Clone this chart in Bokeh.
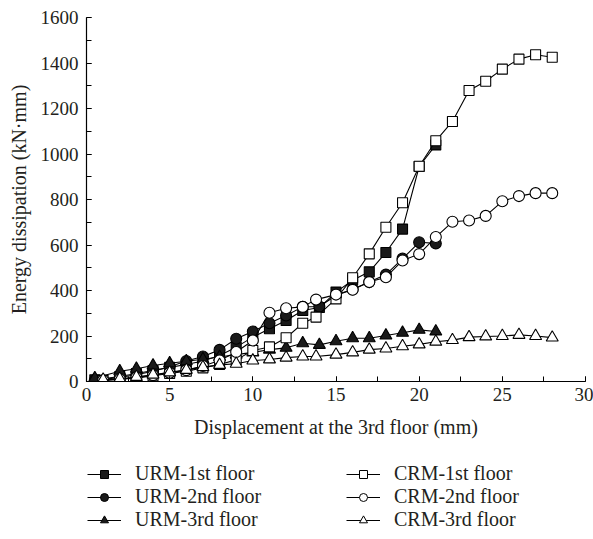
from bokeh.plotting import figure
from bokeh.models import Range1d, Legend, LegendItem, SingleIntervalTicker
from bokeh.layouts import column
from bokeh.embed import file_html
from bokeh.resources import INLINE

# ---- data ----
urm_x = [0.5, 2, 3, 4, 5, 6, 7, 8, 9, 10, 11, 12, 13, 14, 15, 16, 17, 18, 19, 20, 21]
urm_1st = [8, 22, 35, 48, 62, 75, 90, 114, 151, 195, 232, 268, 312, 325, 393, 445, 482, 567, 670, 945, 1040]
urm_2nd = [5, 18, 30, 45, 65, 90, 110, 139, 188, 220, 256, 290, 328, 330, 378, 405, 437, 470, 540, 612, 607]
urm_3rd = [15, 45, 56, 70, 80, 89, 98, 108, 118, 128, 140, 148, 168, 161, 177, 190, 190, 202, 214, 227, 220]

crm_x = [1, 2, 3, 4, 5, 6, 7, 8, 9, 10, 11, 12, 13, 13.8, 15, 16, 17, 18, 19, 20, 21, 22, 23, 24, 25, 26, 27, 28]
crm_1st = [5, 10, 15, 25, 35, 45, 60, 75, 95, 136, 152, 192, 256, 283, 363, 456, 561, 678, 786, 946, 1058, 1143, 1279, 1320, 1373, 1417, 1436, 1425]
crm_2nd = [5, 10, 18, 28, 38, 50, 68, 92, 130, 180, 302, 322, 328, 360, 382, 403, 437, 458, 532, 560, 635, 702, 708, 728, 792, 815, 828, 828]
crm_3rd = [8, 12, 20, 30, 40, 51, 63, 73, 78, 92, 97, 105, 110, 110, 118, 128, 140, 145, 155, 163, 175, 182, 195, 198, 200, 205, 200, 193]

labels = ["URM-1st floor", "URM-2nd floor", "URM-3rd floor",
          "CRM-1st floor", "CRM-2nd floor", "CRM-3rd floor"]

FONT = "Liberation Serif"
INK = "#231f20"

p = figure(width=593, height=440, output_backend="svg", toolbar_location=None,
           x_range=Range1d(0, 30), y_range=Range1d(0, 1600),
           min_border_left=86, min_border_right=8, min_border_top=17, min_border_bottom=59)
p.outline_line_color = None
p.xgrid.visible = False
p.ygrid.visible = False
p.background_fill_color = "white"
p.border_fill_color = "white"

p.xaxis.ticker = SingleIntervalTicker(interval=5, num_minor_ticks=2)
p.yaxis.ticker = SingleIntervalTicker(interval=200, num_minor_ticks=2)
for ax in (p.xaxis[0], p.yaxis[0]):
    ax.axis_line_color = "black"
    ax.axis_line_width = 1.2
    ax.major_tick_in = 5
    ax.major_tick_out = 0
    ax.minor_tick_in = 5
    ax.minor_tick_out = 0
    ax.major_tick_line_color = "black"
    ax.minor_tick_line_color = "black"
    ax.major_label_text_font = FONT
    ax.major_label_text_font_size = "19px"
    ax.major_label_text_color = INK
    ax.axis_label_text_font = FONT
    ax.axis_label_text_font_size = "20px"
    ax.axis_label_text_font_style = "normal"
    ax.axis_label_text_color = INK
p.xaxis.axis_label = "Displacement at the 3rd floor (mm)"
p.yaxis.axis_label = "Energy dissipation (kN\u00b7mm)"
p.xaxis.major_label_standoff = 6
p.yaxis.major_label_standoff = 8
p.xaxis.axis_label_standoff = 12
p.yaxis.axis_label_standoff = 8

# (x, y, marker, fill, size in chart, size in legend)
series = [
    (urm_x, urm_1st, "square", "#1a1a1a", 10, 8),
    (urm_x, urm_2nd, "circle", "#1a1a1a", 11, 8),
    (urm_x, urm_3rd, "triangle", "#1a1a1a", 12, 9),
    (crm_x, crm_1st, "square", "white", 10, 8),
    (crm_x, crm_2nd, "circle", "white", 11, 8),
    (crm_x, crm_3rd, "triangle", "white", 12, 9),
]

# legend strip (its own small figure, so the legend is not clipped by the chart frame)
q = figure(width=593, height=99, output_backend="svg", toolbar_location=None,
           x_range=Range1d(0, 1), y_range=Range1d(0, 1),
           min_border_left=0, min_border_right=0, min_border_top=0, min_border_bottom=0)
q.axis.visible = False
q.grid.visible = False
q.outline_line_color = None
q.background_fill_color = "white"
q.border_fill_color = "white"

items = []
for (xs, ys, marker, fill, size, lsize), lab in zip(series, labels):
    p.line(xs, ys, line_color="black", line_width=1.1)
    p.scatter(xs, ys, marker=marker, size=size, fill_color=fill,
              line_color="black", line_width=1.1)
    # hidden twins that only serve as legend samples
    ln = q.line(xs, ys, line_color="black", line_width=1.1, visible=False)
    sc = q.scatter(xs, ys, marker=marker, size=lsize, fill_color=fill,
                   line_color="black", line_width=1.0, visible=False)
    items.append(LegendItem(label=lab, renderers=[ln, sc]))

def make_legend(its, loc):
    return Legend(items=its, location=loc, orientation="vertical",
                  padding=0, margin=0, spacing=0, glyph_width=34, glyph_height=20,
                  label_height=20, label_standoff=14,
                  label_text_font=FONT, label_text_font_size="20px", label_text_color=INK,
                  border_line_color=None, background_fill_alpha=0)

q.add_layout(make_legend(items[:3], (1, 8)))
q.add_layout(make_legend(items[3:], (260, 8)))

layout = column(p, q, spacing=0)
open("out.html", "w").write(file_html(layout, INLINE))
